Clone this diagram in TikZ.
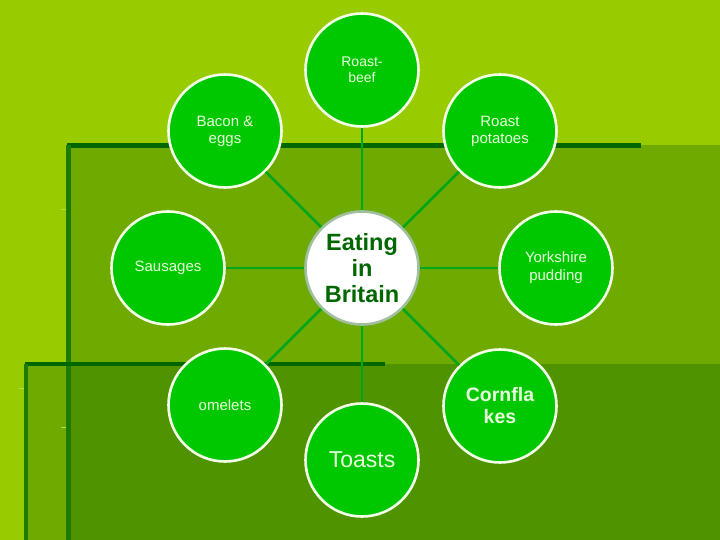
\documentclass[tikz,border=0pt]{standalone}
\usepackage{fontspec}
\setmainfont{Liberation Sans}
\definecolor{bgA}{HTML}{99CC00}
\definecolor{bgB}{HTML}{6FAA00}
\definecolor{bgC}{HTML}{4F9400}
\definecolor{edgeD}{HTML}{006600}
\definecolor{edgeL}{HTML}{1F7A00}
\definecolor{spoke}{HTML}{00A818}
\definecolor{dish}{HTML}{00C800}
\definecolor{rim}{HTML}{F4FFE8}
\definecolor{txt}{HTML}{E8FFDC}
\definecolor{hubrim}{HTML}{A0C0A0}
\tikzset{
  dishnode/.style={circle, fill=dish, draw=rim, line width=2.6pt, minimum size=113pt, inner sep=0pt, align=center, text=txt, font=\fontsize{14}{16}\selectfont},
  hubnode/.style={circle, fill=white, draw=hubrim, line width=2.6pt, minimum size=113pt, inner sep=0pt, align=center, text=edgeD, font=\fontsize{23.5}{26}\selectfont\bfseries},
  spokeline/.style={draw=spoke, line width=2.6pt}
}
\begin{document}
\begin{tikzpicture}[x=1pt,y=-1pt]
\useasboundingbox (0,0) rectangle (720,540);
% background
\fill[bgA] (0,0) rectangle (720,540);
\fill[bgB] (67,145) rectangle (720,540);
\fill[bgB] (25,364) rectangle (67,540);
\fill[bgC] (67,364) rectangle (720,540);
% edges
\fill[edgeD] (67,143) rectangle (641,148);
\fill[edgeL] (66,145) rectangle (71,540);
\fill[edgeD] (25,362) rectangle (385,366);
\fill[edgeL] (24,364) rectangle (28,540);
\draw[bgA!70!white, line width=0.8pt] (61,209) -- (66,209);
\draw[bgA!70!white, line width=0.8pt] (19,388) -- (24,388);
\draw[bgA!70!white, line width=0.8pt] (61,427) -- (66,427);
% nodes
\node[hubnode] (hub) at (362,268) {Eating\\in\\Britain};
\node[dishnode] (beef) at (362,70) {Roast-\\beef};
\node[dishnode, font=\fontsize{15}{17}\selectfont] (bacon) at (225,131) {Bacon \&\\eggs};
\node[dishnode, font=\fontsize{15}{17}\selectfont] (potatoes) at (500,131) {Roast\\potatoes};
\node[dishnode, font=\fontsize{15}{17}\selectfont] (sausages) at (168,268) {Sausages};
\node[dishnode, font=\fontsize{15}{18}\selectfont] (yorkshire) at (556,268) {Yorkshire\\pudding};
\node[dishnode, font=\fontsize{15}{17}\selectfont] (omelets) at (225,405) {omelets};
\node[dishnode, font=\fontsize{19.5}{22}\selectfont\bfseries] (cornflakes) at (500,406) {Cornfla\\kes};
\node[dishnode, font=\fontsize{23}{26}\selectfont] (toasts) at (362,460) {Toasts};
% spokes between node borders
\foreach \n in {beef,bacon,potatoes,sausages,yorkshire,omelets,cornflakes,toasts}{
  \path[spokeline] (hub) -- (\n);
}
\end{tikzpicture}
\end{document}
